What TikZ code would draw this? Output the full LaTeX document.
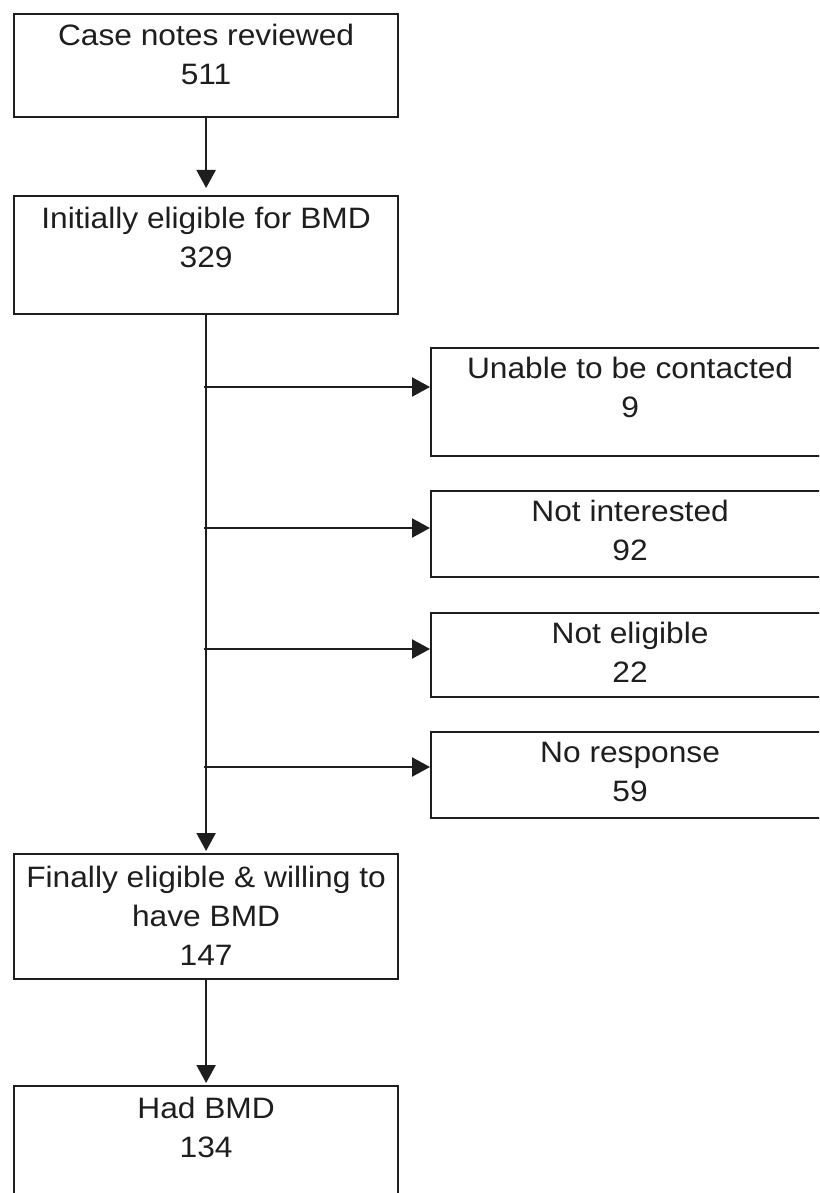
\documentclass[tikz,border=0pt]{standalone}
\usepackage{fontspec}
\setmainfont{Liberation Sans}
\usetikzlibrary{arrows.meta}
\definecolor{ink}{HTML}{1E1E1E}
\tikzset{
  box/.style={draw=ink, line width=2.2pt, rectangle, inner sep=0pt, anchor=north west},
  txt/.style={text=ink, font=\fontsize{29.5}{39}\selectfont, align=center, inner sep=0pt, anchor=base, xscale=1.075},
  flow/.style={draw=ink, line width=2.2pt, -{Triangle[length=18pt,width=19pt]}}
}
\begin{document}
\begin{tikzpicture}[x=1pt,y=-1pt]
\clip (0,0) rectangle (819,1193);
\fill[white] (0,0) rectangle (819,1193);

% main column
\node[box, minimum width=384pt, minimum height=103pt] (b1) at (13,13) {};
\node[box, minimum width=384pt, minimum height=118pt] (b2) at (13,195) {};
\node[box, minimum width=384pt, minimum height=125pt] (b3) at (13,853) {};
\node[box, minimum width=384pt, minimum height=140pt] (b4) at (13,1085) {};

% texts are anchored at the baseline of their last line
\node[txt] (t1) at ([yshift=-72pt]b1.north) {Case notes reviewed\\511};
\node[txt] (t2) at ([yshift=-72pt]b2.north) {Initially eligible for BMD\\329};
\node[txt] (t3) at ([yshift=-112pt]b3.north) {Finally eligible \& willing to\\have BMD\\147};
\node[txt] (t4) at ([yshift=-72pt]b4.north) {Had BMD\\134};

% exclusion boxes
\node[box, minimum width=398pt, minimum height=108pt] (r1) at (430,347) {};
\node[box, minimum width=398pt, minimum height=86pt] (r2) at (430,490) {};
\node[box, minimum width=398pt, minimum height=84pt] (r3) at (430,612) {};
\node[box, minimum width=398pt, minimum height=86pt] (r4) at (430,731) {};

\node[txt] (u1) at ([yshift=-70pt]r1.north) {Unable to be contacted\\9};
\node[txt] (u2) at ([yshift=-70pt]r2.north) {Not interested\\92};
\node[txt] (u3) at ([yshift=-70pt]r3.north) {Not eligible\\22};
\node[txt] (u4) at ([yshift=-70pt]r4.north) {No response\\59};

% branch points on the trunk
\coordinate (j1) at (204,387);
\coordinate (j2) at (204,528);
\coordinate (j3) at (204,649);
\coordinate (j4) at (204,767);

% connectors
\draw[flow, shorten >=7pt] (b1.south) -- (b2.north);
\draw[flow, shorten >=2pt] (b2.south) -- (b3.north);
\draw[flow, shorten >=2pt] (b3.south) -- (b4.north);
\draw[flow] (j1) -- (j1 -| r1.west);
\draw[flow] (j2) -- (j2 -| r2.west);
\draw[flow] (j3) -- (j3 -| r3.west);
\draw[flow] (j4) -- (j4 -| r4.west);
\end{tikzpicture}
\end{document}
